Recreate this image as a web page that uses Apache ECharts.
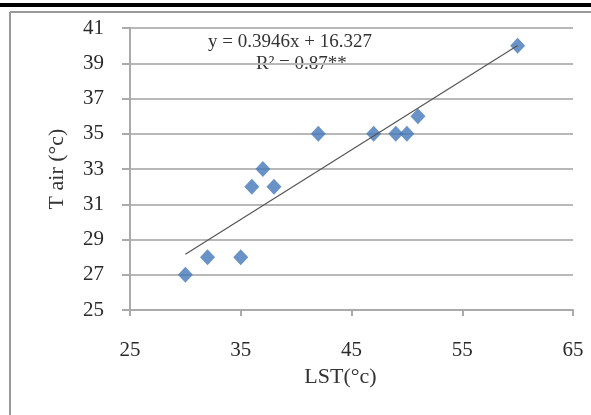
<!DOCTYPE html>
<html lang="en">
<head>
<meta charset="UTF-8">
<title>LST vs T air</title>
<style>
    html, body { margin: 0; padding: 0; background: #fff; }
    #echart { width: 591px; height: 415px; }
</style>
</head>
<body>
<div id="echart"></div>
<script src="https://cdn.jsdelivr.net/npm/echarts@6/dist/echarts.min.js"></script>
<script>
    // LST (°c) on x, T air (°c) on y
    const lst = [30, 32, 35, 36, 37, 38, 42, 47, 49, 50, 51, 60];
    const tair = [27, 28, 28, 32, 33, 32, 35, 35, 35, 35, 36, 40];
    const slope = 0.3946;
    const intercept = 16.327;
    const trendX = [30, 60];

    const chart = echarts.init(document.getElementById("echart"));
    const serif = "Liberation Serif, Times New Roman, serif";

    const option = {
        animation: false,
        grid: { left: 130, right: 18, top: 28, bottom: 105 },
        xAxis: {
            type: "value",
            min: 25, max: 65, interval: 10,
            name: "LST(°c)",
            nameLocation: "middle",
            nameGap: 52,
            nameTextStyle: { fontFamily: serif, fontSize: 22, color: "#333", padding: [0, 22, 0, 0] },
            axisLine: { lineStyle: { color: "#aaa", width: 2 } },
            axisTick: { show: true, length: 6, lineStyle: { color: "#aaa", width: 2 } },
            axisLabel: { fontFamily: serif, fontSize: 21, color: "#2a2a2a", margin: 30 },
            splitLine: { show: false }
        },
        yAxis: {
            type: "value",
            min: 25, max: 41, interval: 2,
            name: "T air (°c)",
            nameLocation: "middle",
            nameGap: 62,
            nameRotate: 90,
            nameTextStyle: { fontFamily: serif, fontSize: 22, color: "#333" },
            axisLine: { show: true, lineStyle: { color: "#aaa", width: 2 } },
            axisTick: { show: true, length: 8, lineStyle: { color: "#aaa", width: 2 } },
            axisLabel: { fontFamily: serif, fontSize: 21, color: "#2a2a2a", margin: 26 },
            splitLine: { lineStyle: { color: "#b8b8b8", width: 2 } }
        },
        series: [
            {
                type: "line",
                data: trendX.map((x) => [x, slope * x + intercept]),
                symbol: "none",
                lineStyle: { color: "#555", width: 1.2 },
                z: 3
            },
            {
                type: "scatter",
                data: lst.map((x, i) => [x, tair[i]]),
                symbol: "diamond",
                symbolSize: [15, 16],
                itemStyle: { color: "#4377b8" },
                z: 2
            }
        ],
        graphic: [
            { type: "rect", shape: { x: 0, y: 3, width: 591, height: 4 }, style: { fill: "#000" } },
            { type: "line", shape: { x1: 10, y1: 12, x2: 591, y2: 12 }, style: { stroke: "#999", lineWidth: 2 } },
            { type: "line", shape: { x1: 10, y1: 12, x2: 10, y2: 415 }, style: { stroke: "#999", lineWidth: 2 } },
            {
                type: "text", left: 208, top: 33,
                style: { text: "y = 0.3946x + 16.327", font: "19px " + serif, fill: "#333" }
            },
            {
                type: "text", left: 256, top: 55,
                style: { text: "R² = 0.87**", font: "19px " + serif, fill: "#333" }
            }
        ]
    };

    chart.setOption(option);
</script>
</body>
</html>
